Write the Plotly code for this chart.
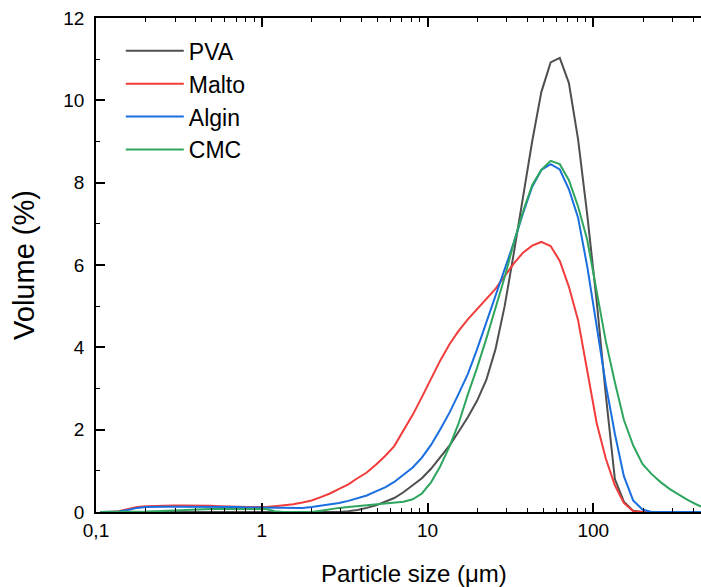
import plotly.graph_objects as go

# Particle size class midpoints (µm)
sizes = [0.106, 0.121, 0.137, 0.156, 0.177, 0.201, 0.229, 0.260, 0.295, 0.335,
         0.381, 0.432, 0.491, 0.557, 0.633, 0.719, 0.818, 0.929, 1.06, 1.20,
         1.36, 1.55, 1.76, 2.00, 2.27, 2.58, 2.93, 3.33, 3.78, 4.30,
         4.88, 5.55, 6.30, 7.16, 8.14, 9.25, 10.5, 11.9, 13.6, 15.4,
         17.5, 19.9, 22.6, 25.7, 29.2, 33.2, 37.7, 42.8, 48.6, 55.3,
         62.8, 71.3, 81.0, 92.1, 105, 119, 135, 153, 174, 198,
         225, 256, 291, 330, 375, 426, 484]

pva = [0, 0, 0, 0, 0, 0, 0, 0, 0, 0,
       0, 0, 0, 0, 0, 0, 0, 0, 0, 0,
       0, 0, 0, 0, 0, 0, 0, 0.02, 0.05, 0.10,
       0.16, 0.25, 0.34, 0.48, 0.64, 0.82, 1.05, 1.33, 1.62, 1.95,
       2.30, 2.70, 3.20, 3.95, 5.00, 6.30, 7.70, 9.00, 10.20, 10.92,
       11.03, 10.42, 9.05, 7.20, 5.10, 2.85, 0.80, 0.25, 0.03, 0,
       0, 0, 0, 0, 0, 0, 0]

malto = [0, 0, 0.02, 0.07, 0.12, 0.14, 0.15, 0.16, 0.16, 0.16,
         0.16, 0.15, 0.15, 0.14, 0.13, 0.12, 0.12, 0.12, 0.12, 0.14,
         0.16, 0.19, 0.23, 0.28, 0.36, 0.45, 0.56, 0.67, 0.82, 0.96,
         1.15, 1.36, 1.60, 1.98, 2.36, 2.79, 3.22, 3.67, 4.08, 4.40,
         4.68, 4.93, 5.18, 5.42, 5.73, 6.04, 6.30, 6.47, 6.56, 6.46,
         6.10, 5.47, 4.66, 3.40, 2.15, 1.30, 0.65, 0.22, 0.02, 0,
         0, 0, 0, 0, 0, 0, 0]

algin = [0, 0, 0.01, 0.05, 0.10, 0.12, 0.13, 0.13, 0.13, 0.13,
         0.13, 0.13, 0.13, 0.12, 0.12, 0.12, 0.11, 0.11, 0.10, 0.10,
         0.10, 0.10, 0.10, 0.12, 0.15, 0.18, 0.22, 0.27, 0.33, 0.40,
         0.50, 0.60, 0.73, 0.90, 1.08, 1.32, 1.63, 2.00, 2.42, 2.87,
         3.35, 3.95, 4.60, 5.25, 5.90, 6.55, 7.26, 7.90, 8.31, 8.45,
         8.32, 7.84, 7.15, 5.95, 4.50, 3.10, 1.90, 0.87, 0.28, 0.06,
         0, 0, 0, 0, 0, 0, 0]

cmc = [0, 0, 0, 0, 0, 0.01, 0.02, 0.03, 0.04, 0.05,
       0.06, 0.07, 0.07, 0.07, 0.07, 0.07, 0.08, 0.08, 0.07, 0.02,
       0, 0, 0, 0, 0.03, 0.07, 0.10, 0.12, 0.14, 0.16,
       0.18, 0.20, 0.22, 0.25, 0.31, 0.45, 0.72, 1.10, 1.60, 2.15,
       2.85, 3.50, 4.20, 4.95, 5.70, 6.55, 7.30, 7.94, 8.31, 8.53,
       8.45, 8.06, 7.42, 6.60, 5.35, 4.15, 3.15, 2.24, 1.62, 1.17,
       0.92, 0.72, 0.55, 0.41, 0.28, 0.17, 0.08]

series_names = ["PVA", "Malto", "Algin", "CMC"]
series_values = [pva, malto, algin, cmc]
series_colors = ["#4f4f4f", "#f23c3c", "#1a6fe0", "#2ea65e"]

x_tick_vals = [0.1, 1, 10, 100]
x_tick_text = ["0,1", "1", "10", "100"]

FONT = "Liberation Sans, Arial, sans-serif"

fig = go.Figure()
for name, vals, col in zip(series_names, series_values, series_colors):
    fig.add_trace(go.Scatter(x=sizes, y=vals, mode="lines", name=name,
                             line=dict(color=col, width=2)))

fig.update_layout(
    width=701, height=587,
    margin=dict(l=96, r=0, t=18, b=75),
    paper_bgcolor="white", plot_bgcolor="white",
    font=dict(family=FONT, color="black", size=19),
    showlegend=True,
    legend=dict(x=0.041, y=0.977, xanchor="left", yanchor="top",
                bgcolor="rgba(0,0,0,0)", borderwidth=0,
                font=dict(family=FONT, size=23, color="black"),
                itemwidth=58, tracegroupgap=0),
    xaxis=dict(type="log", range=[-1, 2.65],
               tickvals=x_tick_vals, ticktext=x_tick_text,
               ticks="inside", ticklen=9, tickwidth=1.5, tickcolor="black",
               showline=True, linewidth=1.5, linecolor="black", mirror="ticks",
               showgrid=False, zeroline=False,
               tickfont=dict(family=FONT, size=19, color="black"),
               minor=dict(ticks="inside", ticklen=4.5, tickwidth=1.2,
                          tickcolor="black", dtick="D1", showgrid=False)),
    yaxis=dict(range=[0, 12], dtick=2, tick0=0,
               ticks="inside", ticklen=9, tickwidth=1.5, tickcolor="black",
               showline=True, linewidth=1.5, linecolor="black", mirror=False,
               showgrid=False, zeroline=False,
               tickfont=dict(family=FONT, size=19, color="black"),
               ticklabelstandoff=6,
               title=dict(text="Volume (%)", font=dict(family=FONT, size=29, color="black"),
                          standoff=20),
               minor=dict(ticks="inside", ticklen=4.5, tickwidth=1.2,
                          tickcolor="black", dtick=1, showgrid=False)),
    yaxis2=dict(overlaying="y", side="right", anchor="free", position=1,
                range=[0, 12], dtick=2, tick0=0, ticks="inside", ticklen=4,
                tickwidth=1.5, tickcolor="black", showline=False,
                showticklabels=False, showgrid=False, zeroline=False),
)

fig.add_annotation(text="Particle size (\u03bcm)", xref="paper", yref="paper",
                   x=0.526, y=-0.093, xanchor="center", yanchor="top",
                   showarrow=False,
                   font=dict(family=FONT, size=24, color="black"))

fig.write_html("out.html")
